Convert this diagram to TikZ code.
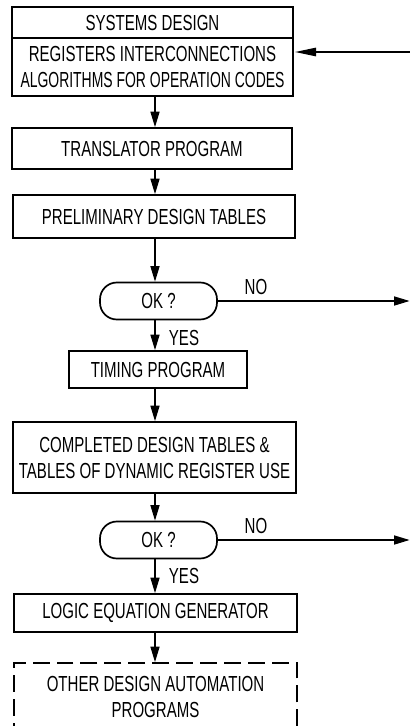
\documentclass[tikz,border=0pt]{standalone}
\usepackage{fontspec}
\setmainfont{Liberation Sans}[FakeStretch=0.69]
\newfontfamily\narrowlettering{Liberation Sans}[FakeStretch=0.64]
\usetikzlibrary{arrows.meta, positioning, calc}

\tikzset{
    procbox/.style={rectangle, draw, line width=1.2pt, inner sep=0pt,
        align=center, font=\fontsize{15.5}{18.5}\selectfont},
    decision/.style={procbox, rounded corners=12pt, minimum width=2.925cm,
        minimum height=0.925cm},
    flow/.style={line width=1pt, -{Triangle[length=11pt, width=6.4pt]}},
    feedin/.style={line width=1pt, -{Triangle[length=15pt, width=6pt]}},
    lbl/.style={font=\fontsize{15.5}{18}\selectfont, inner sep=0pt}
}

\begin{document}
\begin{tikzpicture}
    \useasboundingbox (0,0) rectangle (10.25,-18.15);
    \clip (0,0) rectangle (10.25,-18.15);
    \coordinate (spine) at (3.875,0);

    % Systems design, header and body
    \node[procbox, outer sep=0pt, minimum width=7.025cm, minimum height=0.775cm]
        (sysdes) at (3.8125,-0.5625) {SYSTEMS DESIGN};
    \node[procbox, outer sep=0pt, minimum width=7.025cm, minimum height=1.45cm,
          below=0pt of sysdes] (regs)
        {REGISTERS INTERCONNECTIONS\\{\narrowlettering ALGORITHMS FOR OPERATION CODES}};

    % Program and table boxes
    \node[procbox, minimum width=7cm, minimum height=1.025cm]
        (trans) at (3.8,-3.7125) {TRANSLATOR PROGRAM};
    \node[procbox, minimum width=7.05cm, minimum height=1.075cm]
        (prelim) at (3.85,-5.4125) {PRELIMINARY DESIGN TABLES};
    \node[decision] (ok1) at (3.9625,-7.525) {OK ?};
    \node[procbox, minimum width=4.45cm, minimum height=0.925cm]
        (timing) at (3.95,-9.2375) {TIMING PROGRAM};
    \node[procbox, minimum width=7.075cm, minimum height=1.775cm]
        (compl) at (3.8625,-11.4375)
        {COMPLETED DESIGN TABLES \&\\TABLES OF DYNAMIC REGISTER USE};
    \node[decision] (ok2) at (3.9625,-13.5) {OK ?};
    \node[procbox, minimum width=7.075cm, minimum height=0.95cm]
        (logic) at (3.8875,-15.325) {LOGIC EQUATION GENERATOR};
    \node[procbox, dash pattern=on 12pt off 5pt, minimum width=7.075cm,
          minimum height=1.675cm]
        (other) at (3.8875,-17.4125) {OTHER DESIGN AUTOMATION\\PROGRAMS};

    % Main flow down the chart
    \draw[flow] (regs.south -| spine) -- (trans.north -| spine);
    \draw[flow] (trans.south -| spine) -- (prelim.north -| spine);
    \draw[flow] (prelim.south -| spine) -- (ok1.north -| spine);
    \draw[flow] (ok1.south -| spine) -- (timing.north -| spine);
    \draw[flow] (timing.south -| spine) -- (compl.north -| spine);
    \draw[flow] (compl.south -| spine) -- (ok2.north -| spine);
    \draw[flow] (ok2.south -| spine) -- (logic.north -| spine);
    \draw[flow] (logic.south -| spine) -- (other.north -| spine);

    % Branches leaving and re-entering
    \coordinate (back) at (10.25,-1.3);
    \coordinate (exit1) at (10.24,-7.525);
    \coordinate (exit2) at (10.24,-13.5);
    \draw[feedin, shorten >=0.05cm] (back) -- (back -| regs.east);
    \draw[flow] (ok1.east) -- (exit1);
    \draw[flow] (ok2.east) -- (exit2);

    % Answers
    \node[lbl] (no1) at (6.4,-7.175) {NO};
    \node[lbl] (yes1) at (4.6,-8.45) {YES};
    \node[lbl] (no2) at (6.4,-13.15) {NO};
    \node[lbl] (yes2) at (4.6,-14.4) {YES};
\end{tikzpicture}
\end{document}
